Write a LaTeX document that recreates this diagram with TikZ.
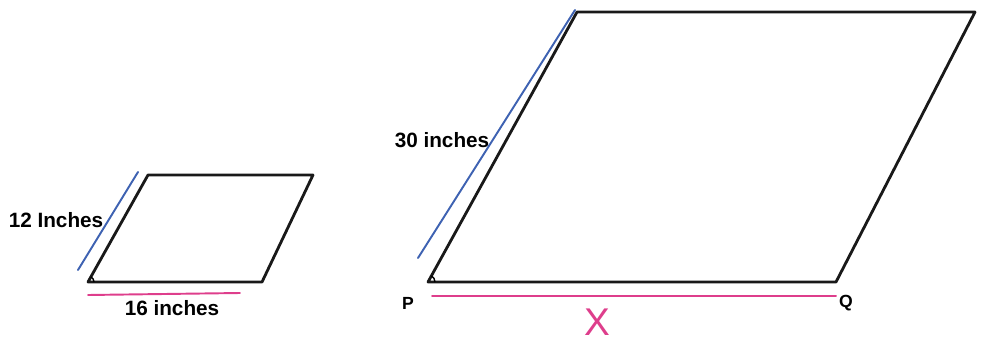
\documentclass[tikz,border=0pt]{standalone}
\usepackage{fontspec}
\setmainfont{Liberation Sans}
\usetikzlibrary{calc}
\definecolor{penblue}{RGB}{62,98,178}
\definecolor{penpink}{RGB}{222,62,140}

\begin{document}
\begin{tikzpicture}[
  x=0.02cm,y=0.02cm,
  quad/.style={draw=black!90, line width=1.6pt, line join=round},
  side/.style={line width=1.1pt, line cap=round},
  lbl/.style={font=\bfseries\fontsize{11.8}{13}\selectfont, inner sep=1pt},
  vtx/.style={font=\bfseries\fontsize{10}{12}\selectfont, inner sep=1pt}
]
\useasboundingbox (0,0) rectangle (982,345);
% small parallelogram
\coordinate (a1) at (88,63);
\coordinate (b1) at (262,63);
\coordinate (c1) at (313,170);
\coordinate (d1) at (148,170);
\draw[quad] (a1) -- (b1) -- (c1) -- (d1) -- cycle;
\draw[line width=0.8pt] ($(a1)+(6,0)$) arc (0:61:6);
% large parallelogram
\coordinate (P) at (428,63);
\coordinate (Q) at (836,63);
\coordinate (R) at (975,333);
\coordinate (S) at (577,333);
\draw[quad] (P) -- (Q) -- (R) -- (S) -- cycle;
\draw[line width=0.8pt] ($(P)+(7,0)$) arc (0:61:7);
% marked sides
\coordinate (bl1) at (78,75);
\coordinate (bl2) at (138,173);
\coordinate (pk1) at (88,50);
\coordinate (pk2) at (240,52);
\coordinate (bl3) at (418,87);
\coordinate (bl4) at (575,335);
\coordinate (pk3) at (432,49);
\coordinate (pk4) at (836,49);
\draw[side, penblue] (bl1) -- (bl2);
\draw[side, penpink] (pk1) -- (pk2);
\draw[side, penblue] (bl3) -- (bl4);
\draw[side, penpink] (pk3) -- (pk4);
% labels
\node[lbl] (twelve) at (56,125) {12 Inches};
\node[lbl] (sixteen) at (172,37) {16 inches};
\node[lbl] (thirty) at (442,205) {30 inches};
\node[vtx] (pname) at (408,42) {P};
\node[vtx] (qname) at (846,42) {Q};
\node[text=penpink, font=\fontsize{22}{24}\selectfont] (xlen) at (597,23) {X};
\end{tikzpicture}
\end{document}
